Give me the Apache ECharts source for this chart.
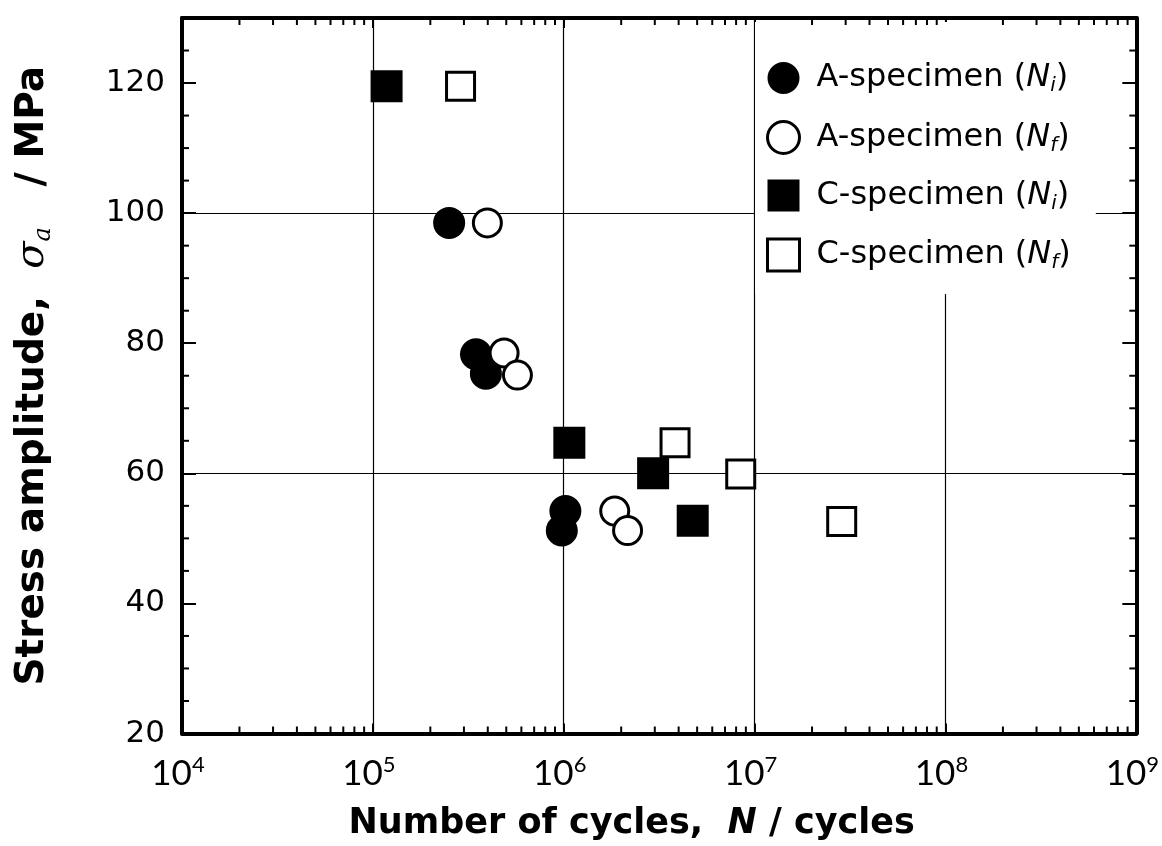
<!DOCTYPE html>
<html><head><meta charset="utf-8">
<script src="https://cdn.jsdelivr.net/npm/echarts@6/dist/echarts.min.js"></script>
<style>html,body{margin:0;padding:0;background:#fff}#c{width:1162px;height:846px}</style>
</head><body><div id="c"></div>
<script>
// ---- data ----
const seriesNames = ['A-specimen (Ni)', 'A-specimen (Nf)', 'C-specimen (Ni)', 'C-specimen (Nf)'];
const aNiCycles = [2.51e5, 3.47e5, 3.91e5, 1.02e6, 9.77e5];
const aNiStress = [98.5, 78.3, 75.3, 54.2, 51.2];
const aNfCycles = [3.98e5, 4.87e5, 5.72e5, 1.85e6, 2.16e6];
const aNfStress = [98.5, 78.5, 75.1, 54.2, 51.2];
const cNiCycles = [1.18e5, 1.07e6, 2.94e6, 4.74e6];
const cNiStress = [119.5, 64.7, 60.0, 52.7];
const cNfCycles = [2.88e5, 3.83e6, 8.46e6, 2.86e7];
const cNfStress = [119.5, 64.7, 59.9, 52.6];
const xMin = 1e4, xMax = 1e9;
const yMin = 20, yMax = 130, yInterval = 20;
const yGridValues = [60, 100];

function pairs(xs, ys) { return xs.map((x, i) => [x, ys[i]]); }

// minor tick decoration (axis furniture, not data)
const minorTicks = [];
for (let k = Math.log10(xMin); k < Math.log10(xMax); k++) {
  for (let m = 2; m <= 9; m++) minorTicks.push([m * Math.pow(10, k), yMin, 0]);
}
for (let v = yMin + 5; v < yMax; v += 5) {
  if ((v - yMin) % yInterval !== 0) minorTicks.push([xMin, v, 1]);
}

const chart = echarts.init(document.getElementById('c'), null, {renderer: 'canvas'});

const legendFont = 'DejaVu Sans';
const legendRich = {
  g: {width: 12, fontSize: 32, lineHeight: 36},
  t: {fontFamily: legendFont, fontSize: 32, color: '#000', lineHeight: 36},
  n: {fontFamily: legendFont, fontSize: 32, fontStyle: 'italic', color: '#000', lineHeight: 36},
  s: {fontFamily: legendFont, fontSize: 20, fontStyle: 'italic', color: '#000', lineHeight: 36, verticalAlign: 'bottom'}
};

function legendFmt(name) {
  const m = name.match(/^(.*)\(N(.)\)$/);
  return '{g| }{t|' + m[1] + '(}{n|N}{s|' + m[2] + '}{t|)}';
}

const openStyle = {color: '#fff', borderColor: '#000', borderWidth: 3, opacity: 1};
const fillStyle = {color: '#000', borderColor: '#000', borderWidth: 0, opacity: 1};
const seriesStyles = [fillStyle, openStyle, fillStyle, openStyle];

const option = {
  animation: false,
  backgroundColor: '#fff',
  grid: {left: 182, right: 25, top: 18, bottom: 112, containLabel: false},
  legend: {
    show: true,
    orient: 'vertical',
    left: 755, top: 22,
    padding: [40, 25, 21, 11],
    backgroundColor: '#fff',
    itemWidth: 32, itemHeight: 32, itemGap: 24,
    data: seriesNames.map((n, i) => ({name: n, itemStyle: seriesStyles[i]})),
    formatter: legendFmt,
    textStyle: {rich: legendRich},
    selectedMode: false
  },
  xAxis: [{
    type: 'log', logBase: 10, min: xMin, max: xMax,
    position: 'bottom',
    name: '{b|Number of cycles,  }{i|N}{b| / cycles}',
    nameLocation: 'middle', nameGap: 68,
    nameTextStyle: {
      padding: [0, 55, 0, 0],
      rich: {
        b: {fontFamily: 'DejaVu Sans', fontSize: 35, fontWeight: 'bold', color: '#000', lineHeight: 44},
        i: {fontFamily: 'DejaVu Sans', fontSize: 35, fontWeight: 'bold', fontStyle: 'italic', color: '#000', lineHeight: 44}
      }
    },
    axisLine: {show: true, onZero: false, lineStyle: {color: '#000', width: 4}},
    axisTick: {show: true, inside: true, length: 10, lineStyle: {color: '#000', width: 2}},
    minorTick: {show: false},
    splitLine: {show: true, lineStyle: {color: '#000', width: 1.2}},
    axisLabel: {
      margin: 20,
      padding: [0, 8, 0, 0],
      formatter: v => '{b|10}{p|' + Math.round(Math.log10(v)) + '}',
      rich: {
        b: {fontFamily: 'Lato', fontSize: 35, color: '#000', lineHeight: 40},
        p: {fontFamily: 'Lato', fontSize: 22, color: '#000', lineHeight: 40, verticalAlign: 'top'}
      }
    }
  }, {
    type: 'log', logBase: 10, min: xMin, max: xMax,
    position: 'top',
    axisLine: {show: true, onZero: false, lineStyle: {color: '#000', width: 4}},
    axisTick: {show: true, inside: true, length: 10, lineStyle: {color: '#000', width: 2}},
    axisLabel: {show: false},
    splitLine: {show: false}
  }],
  yAxis: [{
    type: 'value', min: yMin, max: yMax, interval: yInterval,
    position: 'left',
    name: '{b|Stress amplitude,}{b|  }{s|σ}{u|a}{b|   / MPa}',
    nameLocation: 'middle', nameRotate: 90, nameGap: 126,
    nameTextStyle: {
      rich: {
        b: {fontFamily: 'DejaVu Sans', fontSize: 39, fontWeight: 'bold', color: '#000', lineHeight: 46},
        s: {fontFamily: 'DejaVu Serif', fontSize: 40, fontStyle: 'italic', color: '#000', lineHeight: 46},
        u: {fontFamily: 'DejaVu Serif', fontSize: 24, fontStyle: 'italic', color: '#000', lineHeight: 46, verticalAlign: 'bottom'}
      }
    },
    axisLine: {show: true, onZero: false, lineStyle: {color: '#000', width: 4}},
    axisTick: {show: true, inside: true, length: 14, lineStyle: {color: '#000', width: 2}},
    splitLine: {show: false},
    axisLabel: {
      margin: 17,
      color: '#000',
      fontFamily: 'DejaVu Sans', fontSize: 31,
      formatter: v => (v > 125 ? '' : String(v))
    }
  }, {
    type: 'value', min: yMin, max: yMax, interval: yInterval,
    position: 'right',
    axisLine: {show: true, onZero: false, lineStyle: {color: '#000', width: 4}},
    axisTick: {show: true, inside: true, length: 14, lineStyle: {color: '#000', width: 2}},
    axisLabel: {show: false},
    splitLine: {show: false}
  }],
  series: [
    {
      name: 'minor-ticks', type: 'custom', xAxisIndex: 0, yAxisIndex: 0,
      silent: true, clip: false, z: 5,
      encode: {x: 0, y: 1},
      data: minorTicks,
      renderItem: function (params, api) {
        const kind = api.value(2);
        const len = 7;
        const st = {stroke: '#000', lineWidth: 2};
        if (kind === 0) {
          const v = api.value(0);
          const b = api.coord([v, yMin]);
          const t = api.coord([v, yMax]);
          return {type: 'group', children: [
            {type: 'line', shape: {x1: b[0], y1: b[1], x2: b[0], y2: b[1] - len}, style: st},
            {type: 'line', shape: {x1: t[0], y1: t[1], x2: t[0], y2: t[1] + len}, style: st}
          ]};
        } else {
          const v = api.value(1);
          const l = api.coord([xMin, v]);
          const r = api.coord([xMax, v]);
          return {type: 'group', children: [
            {type: 'line', shape: {x1: l[0], y1: l[1], x2: l[0] + len, y2: l[1]}, style: st},
            {type: 'line', shape: {x1: r[0], y1: r[1], x2: r[0] - len, y2: r[1]}, style: st}
          ]};
        }
      }
    },
    {
      name: seriesNames[0], type: 'scatter', symbol: 'circle', symbolSize: 32,
      itemStyle: fillStyle, data: pairs(aNiCycles, aNiStress), z: 3,
      markLine: {
        silent: true, symbol: 'none', label: {show: false},
        lineStyle: {color: '#000', width: 1.2, type: 'solid'},
        data: yGridValues.map(v => ({yAxis: v})),
        z: 1
      }
    },
    {name: seriesNames[1], type: 'scatter', symbol: 'circle', symbolSize: 28,
      itemStyle: openStyle, data: pairs(aNfCycles, aNfStress), z: 3},
    {name: seriesNames[2], type: 'scatter', symbol: 'rect', symbolSize: 32,
      itemStyle: fillStyle, data: pairs(cNiCycles, cNiStress), z: 3},
    {name: seriesNames[3], type: 'scatter', symbol: 'rect', symbolSize: 28,
      itemStyle: openStyle, data: pairs(cNfCycles, cNfStress), z: 3}
  ]
};
chart.setOption(option);
</script>
</body></html>
